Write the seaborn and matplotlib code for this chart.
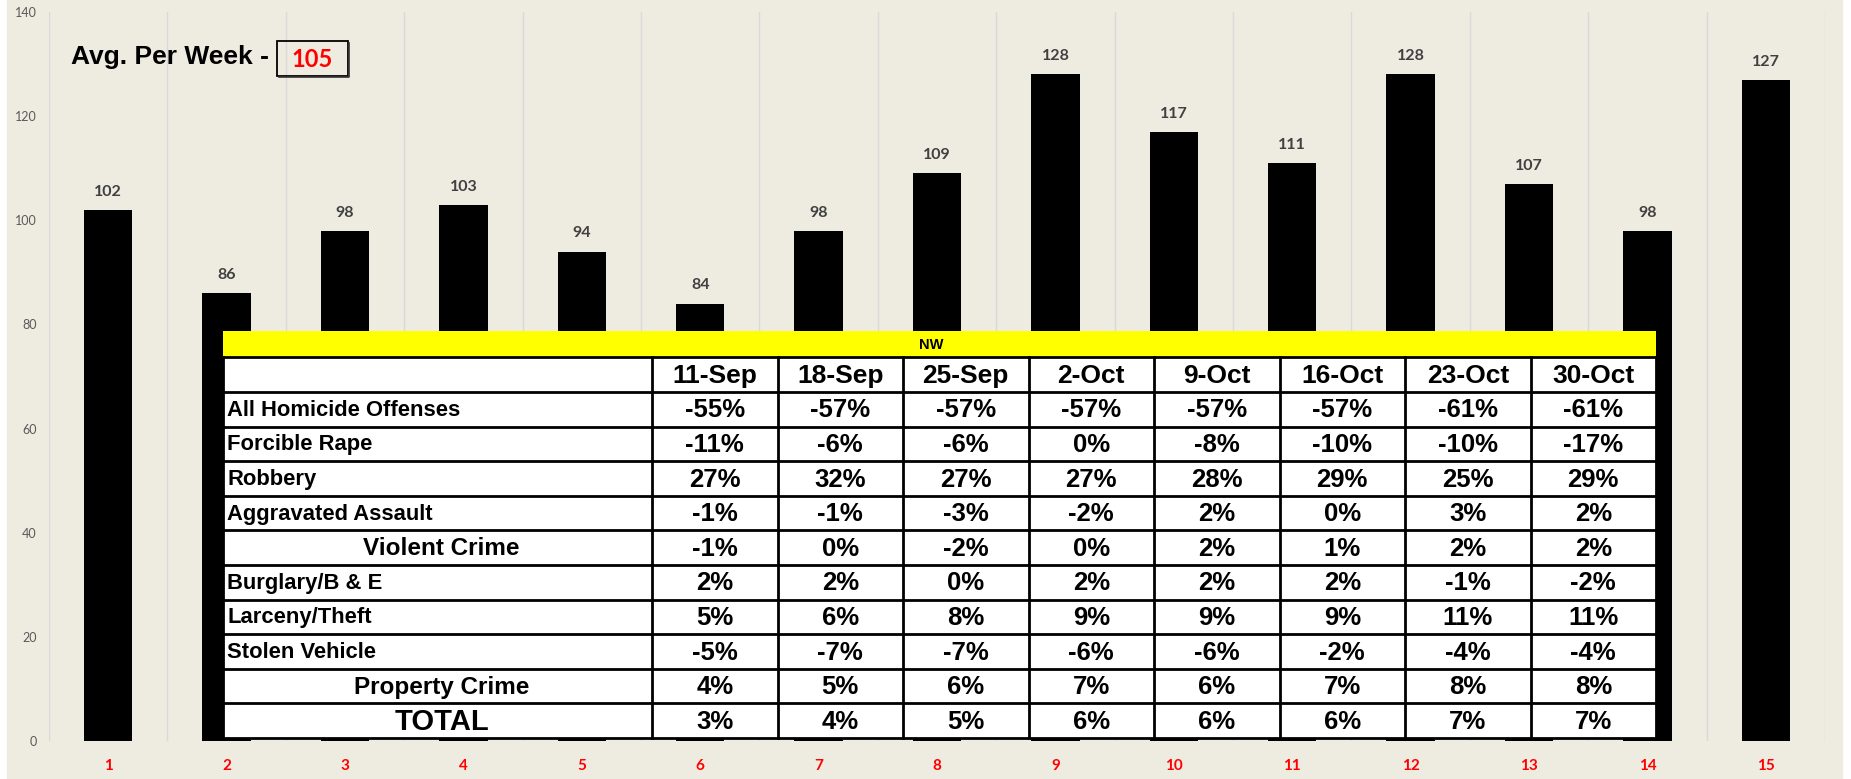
"""
NW weekly offense counts with % change table
"""

import numpy as np
import pandas as pd
import seaborn as sns
import matplotlib.pyplot as plt
from matplotlib.patches import Rectangle

# bar data
weeks = [str(i) for i in range(1, 16)]
counts = [102, 86, 98, 103, 94, 84, 98, 109, 128, 117, 111, 128, 107, 98, 127]
avg_per_week = 105

# table data
region = "NW"
dates = ["11-Sep", "18-Sep", "25-Sep", "2-Oct", "9-Oct", "16-Oct", "23-Oct", "30-Oct"]
crimes = ["All Homicide Offenses", "Forcible Rape", "Robbery", "Aggravated Assault",
          "Violent Crime", "Burglary/B & E", "Larceny/Theft", "Stolen Vehicle",
          "Property Crime", "TOTAL"]
homicide = [-55, -57, -57, -57, -57, -57, -61, -61]
rape = [-11, -6, -6, 0, -8, -10, -10, -17]
robbery = [27, 32, 27, 27, 28, 29, 25, 29]
agg_assault = [-1, -1, -3, -2, 2, 0, 3, 2]
violent = [-1, 0, -2, 0, 2, 1, 2, 2]
burglary = [2, 2, 0, 2, 2, 2, -1, -2]
larceny = [5, 6, 8, 9, 9, 9, 11, 11]
stolen_vehicle = [-5, -7, -7, -6, -6, -2, -4, -4]
property_crime = [4, 5, 6, 7, 6, 7, 8, 8]
total = [3, 4, 5, 6, 6, 6, 7, 7]
rows = [homicide, rape, robbery, agg_assault, violent,
        burglary, larceny, stolen_vehicle, property_crime, total]

W, H = 1851, 779
fig = plt.figure(figsize=(W / 100, H / 100), dpi=100, facecolor="white")
fig.add_artist(Rectangle((7 / W, 0), (1842 - 7) / W, 1, transform=fig.transFigure,
                         color="#EEECE1", zorder=-10))

ax = fig.add_axes([49 / W, (H - 741) / H, (1825 - 49) / W, (741 - 12) / H])
ax.set_facecolor("none")

df = pd.DataFrame({"week": weeks, "count": counts})
sns.barplot(data=df, x="week", y="count", color="black", saturation=1,
            width=0.41, ax=ax, zorder=2)
ax.bar_label(ax.containers[0], padding=8, fontsize=11.5, fontweight="bold",
             color="#404040", family="Lato")

ax.set_ylim(0, 140)
ax.set_yticks(np.arange(0, 141, 20))
ax.set_xlim(-0.5, len(weeks) - 0.5)
ax.set_xticks(np.arange(-0.5, len(weeks), 1), minor=True)
ax.grid(which="minor", axis="x", color="#D9D9D9", lw=1, zorder=0)
ax.grid(which="major", axis="both", visible=False)
ax.tick_params(axis="x", which="both", length=0, pad=13)
ax.tick_params(axis="y", length=0, pad=9, labelsize=9, labelcolor="#595959")
for t in ax.get_xticklabels():
    t.set_color("red")
    t.set_fontweight("bold")
    t.set_fontsize(11)
    t.set_family("Lato")
for t in ax.get_yticklabels():
    t.set_family("Lato")
ax.set_xlabel("")
ax.set_ylabel("")
for s in ax.spines.values():
    s.set_visible(False)

# overlay in pixel coords
ov = fig.add_axes([0, 0, 1, 1], zorder=5)
ov.set_xlim(0, W)
ov.set_ylim(H, 0)
ov.axis("off")
ov.patch.set_visible(False)

ov.text(71, 57, "Avg. Per Week -", fontsize=19, fontweight="bold",
        family="Liberation Sans", va="center", ha="left")
ov.add_patch(Rectangle((277, 41), 71, 35, fill=False, ec="black", lw=1.3))
ov.plot([279, 349, 349], [77, 77, 43], color="#333333", lw=1.2)
ov.text(312, 59, str(avg_per_week), fontsize=17, fontweight="bold", color="red",
        family="Lato", ha="center", va="center")

tx0, tx1 = 223, 1656
ty0 = 331
yel_h = 26
head_h = 35
row_h = 34.6
c0_w = 429
col_w = (tx1 - tx0 - c0_w) / len(dates)
hy1 = ty0 + yel_h
ry0 = hy1 + head_h
ty1 = ry0 + row_h * len(crimes)

ov.add_patch(Rectangle((tx0, ty0), tx1 - tx0, yel_h, color="yellow", lw=0))
ov.add_patch(Rectangle((tx0, hy1), tx1 - tx0, ty1 - hy1, color="white", lw=0))
ov.text((tx0 + tx1) / 2 - 8, ty0 + yel_h / 2 + 1, region, fontsize=10.5, fontweight="bold",
        family="Liberation Sans", ha="center", va="center")

lw = 2
for y in [hy1, ry0] + [ry0 + row_h * i for i in range(1, len(crimes) + 1)]:
    ov.plot([tx0, tx1], [y, y], color="black", lw=lw, solid_capstyle="butt")
for i in range(len(dates) + 1):
    x = tx0 + c0_w + col_w * i
    ov.plot([x, x], [hy1, ty1], color="black", lw=lw)
ov.plot([tx0, tx0], [hy1, ty1], color="black", lw=lw)

for i, d in enumerate(dates):
    ov.text(tx0 + c0_w + col_w * (i + 0.5), hy1 + head_h / 2 + 1, d,
            fontsize=19, fontweight="bold", family="Liberation Sans",
            ha="center", va="center")

subtotals = {"Violent Crime": 17.5, "Property Crime": 17.5, "TOTAL": 21}
for r, (name, vals) in enumerate(zip(crimes, rows)):
    yc = ry0 + row_h * (r + 0.5) + 1
    if name in subtotals:
        ov.text(tx0 + c0_w / 2 + 4, yc, name, fontsize=subtotals[name], fontweight="bold",
                family="Liberation Sans", ha="center", va="center")
    else:
        ov.text(tx0 + 4, yc, name, fontsize=15.8, fontweight="bold",
                family="Liberation Sans", ha="left", va="center")
    for i, v in enumerate(vals):
        ov.text(tx0 + c0_w + col_w * (i + 0.5), yc, f"{v}%", fontsize=18.5,
                fontweight="bold", family="Liberation Sans", ha="center", va="center")

plt.savefig("out.png", dpi=100, facecolor="white")
